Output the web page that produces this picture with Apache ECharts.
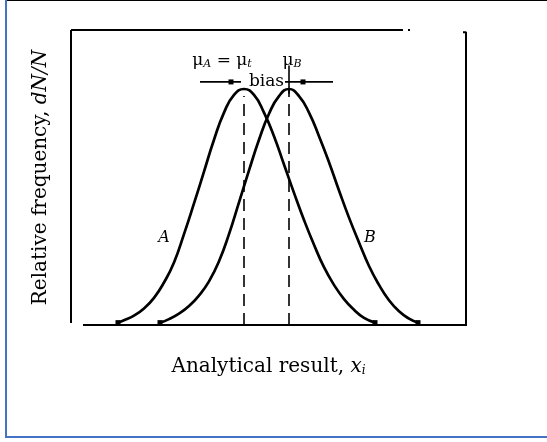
<!DOCTYPE html>
<html>
<head>
<meta charset="utf-8">
<script src="https://cdn.jsdelivr.net/npm/echarts@6/dist/echarts.min.js"></script>
<style>
  html, body { margin: 0; padding: 0; background: #fff; }
  #chart { width: 547px; height: 442px; }
</style>
</head>
<body>
<div id="chart"></div>
<script>
// Analytical result axis positions (arbitrary units) and relative frequencies
const xA = [47, 53, 63, 73, 83, 93, 103, 113, 123, 133, 143, 153, 163, 173, 183, 193, 203, 213, 223, 233, 243, 253, 263, 273, 283, 293, 304];
const yA = [0.01, 0.02, 0.04, 0.07, 0.115, 0.18, 0.265, 0.385, 0.515, 0.65, 0.785, 0.90, 0.975, 1.0, 0.975, 0.90, 0.80, 0.68, 0.56, 0.445, 0.34, 0.245, 0.17, 0.11, 0.065, 0.03, 0.01];
const xB = [89, 98, 108, 118, 128, 138, 148, 158, 168, 178, 188, 198, 208, 218, 228, 238, 248, 258, 268, 278, 288, 298, 308, 318, 328, 338, 347];
const yB = [0.01, 0.025, 0.048, 0.08, 0.125, 0.185, 0.27, 0.385, 0.52, 0.655, 0.785, 0.895, 0.97, 1.0, 0.97, 0.90, 0.80, 0.69, 0.57, 0.455, 0.35, 0.25, 0.17, 0.105, 0.058, 0.027, 0.01];

// Means of the two populations
const muA = 173;
const muB = 218;

// Curve name labels
const curveLabels = [['A', 93, 0.37], ['B', 299, 0.37]];

const zip = (xs, ys) => xs.map((x, i) => [x, ys[i]]);
const ends = (xs, ys) => [[xs[0], ys[0]], [xs[xs.length - 1], ys[ys.length - 1]]];

const serif = 'DejaVu Serif';
const ink = '#000';
const biasY = 1.03;
const X_MAX = 395, Y_MAX = 1.25;

const solid = (data, width) => ({
  type: 'line', data, symbol: 'none', clip: false, silent: true,
  lineStyle: { color: ink, width: width || 2 }
});

const chart = echarts.init(document.getElementById('chart'), null, { renderer: 'canvas' });

chart.setOption({
  animation: false,
  backgroundColor: '#fff',
  grid: { left: 71, right: 81, top: 30, bottom: 117 },
  xAxis: {
    type: 'value', min: 0, max: X_MAX,
    axisLine: { show: false }, axisTick: { show: false }, axisLabel: { show: false }, splitLine: { show: false },
    name: '{t|Analytical result, }{i|x}{s|i}',
    nameLocation: 'middle', nameGap: 32,
    nameTextStyle: {
      rich: {
        t: { fontFamily: serif, fontSize: 20, color: ink },
        i: { fontFamily: serif, fontSize: 20, fontStyle: 'italic', color: ink },
        s: { fontFamily: serif, fontSize: 12, fontStyle: 'italic', color: ink, padding: [7, 0, 0, 0] }
      }
    }
  },
  yAxis: {
    type: 'value', min: 0, max: Y_MAX,
    axisLine: { show: false }, axisTick: { show: false }, axisLabel: { show: false }, splitLine: { show: false },
    name: '{t|Relative frequency, }{i|dN/N}',
    nameLocation: 'middle', nameGap: 20, nameRotate: 90,
    nameTextStyle: {
      rich: {
        t: { fontFamily: serif, fontSize: 20, color: ink },
        i: { fontFamily: serif, fontSize: 20, fontStyle: 'italic', color: ink }
      }
    }
  },
  graphic: [
    { type: 'rect', shape: { x: 5, y: 0, width: 2, height: 438 }, style: { fill: '#4472C4' } },
    { type: 'rect', shape: { x: 5, y: 436, width: 542, height: 2 }, style: { fill: '#4472C4' } },
    { type: 'rect', shape: { x: 7, y: 0, width: 540, height: 1 }, style: { fill: '#000' } }
  ],
  series: [
    // plot frame
    solid([[0, Y_MAX], [0, 0.008]]),
    solid([[12, 0], [X_MAX + 1, 0]]),
    solid([[0, Y_MAX], [332, Y_MAX]]),
    solid([[X_MAX, -0.004], [X_MAX, Y_MAX - 0.01], [X_MAX - 3, Y_MAX - 0.01]]),
    {
      type: 'scatter', data: [[338, Y_MAX]], symbol: 'rect', symbolSize: 2,
      clip: false, itemStyle: { color: ink, opacity: 1 }
    },
    // frequency curves
    {
      type: 'line', data: zip(xA, yA), smooth: 0.5, symbol: 'none',
      lineStyle: { color: ink, width: 2.7 }
    },
    {
      type: 'line', data: zip(xB, yB), smooth: 0.5, symbol: 'none',
      lineStyle: { color: ink, width: 2.7 }
    },
    {
      type: 'scatter', data: ends(xA, yA).concat(ends(xB, yB)),
      symbol: 'rect', symbolSize: 5, itemStyle: { color: ink, opacity: 1 }
    },
    // mean markers
    {
      type: 'line', data: [[muA, 0], [muA, 0.97]], symbol: 'none',
      lineStyle: { color: ink, width: 1.6, type: [12, 7] }
    },
    {
      type: 'line', data: [[muB, 0], [muB, 1.0]], symbol: 'none',
      lineStyle: { color: ink, width: 1.6, type: [12, 7] }
    },
    solid([[muB, 0.98], [muB, 1.1]], 1.6),
    // bias span
    solid([[129, biasY], [muA - 3, biasY]], 1.6),
    solid([[muB - 4, biasY], [262, biasY]], 1.6),
    {
      type: 'scatter', data: [[muA - 13, biasY], [muB + 14, biasY]],
      symbol: 'rect', symbolSize: 5, itemStyle: { color: ink, opacity: 1 }
    },
    {
      type: 'scatter', data: [[(muA + muB) / 2, biasY]], symbolSize: 0,
      itemStyle: { opacity: 1 },
      label: {
        show: true, position: 'inside', formatter: 'bias',
        fontFamily: serif, fontSize: 17, color: ink,
        backgroundColor: '#fff', padding: [0, 1]
      }
    },
    {
      type: 'scatter', symbolSize: 0, itemStyle: { opacity: 1 },
      data: [[muA - 22, 1.12, 't'], [muB + 3, 1.12, '']],
      label: {
        show: true, position: 'inside',
        formatter: p => p.data[2]
          ? '{m|μ}{s|A}{m| = μ}{s|t}'
          : '{m|μ}{s|B}',
        rich: {
          m: { fontFamily: serif, fontSize: 17, color: ink },
          s: { fontFamily: serif, fontSize: 11, fontStyle: 'italic', color: ink, padding: [7, 0, 0, 0] }
        }
      }
    },
    {
      type: 'scatter', symbolSize: 0, itemStyle: { opacity: 1 },
      data: curveLabels.map(d => [d[1], d[2], d[0]]),
      label: {
        show: true, position: 'inside', formatter: p => p.data[2],
        fontFamily: serif, fontSize: 16, fontStyle: 'italic', color: ink
      }
    }
  ]
});
</script>
</body>
</html>
